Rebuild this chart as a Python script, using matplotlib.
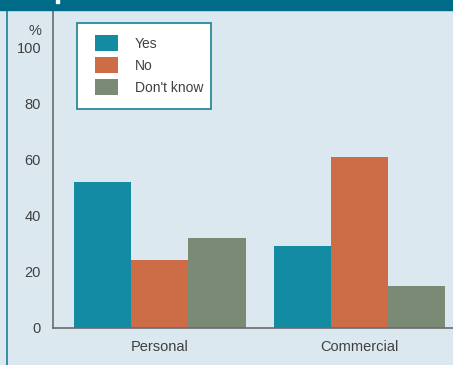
import matplotlib
matplotlib.use("Agg")
import matplotlib.pyplot as plt
import numpy as np
from matplotlib.patches import Rectangle
from matplotlib.lines import Line2D

categories = ["Personal", "Commercial"]
series_names = ["Yes", "No", "Don't know"]
yes_values = [52, 29]
no_values = [24, 61]
dont_know_values = [32, 15]
y_ticks = [0, 20, 40, 60, 80, 100]

series_values = [yes_values, no_values, dont_know_values]
colors = ["#138ba3", "#cd6d48", "#7b8a75"]
bg = "#dbe8ef"
text_color = "#404040"

plt.rcParams["font.family"] = ["Liberation Sans", "DejaVu Sans"]

W, H = 453, 365
fig = plt.figure(figsize=(W / 100, H / 100), dpi=100)
fig.patch.set_facecolor(bg)


def fx(px):
    return px / W


def fy(py):
    return 1 - py / H


# plot area, in pixels from the top-left corner
left, right, top_px, bottom_px = 53, 453, 10, 327.5
ax = fig.add_axes([fx(left), fy(bottom_px), fx(right - left), (bottom_px - top_px) / H])
ax.set_facecolor(bg)

x = np.arange(len(categories))
width = 0.286
for i, (name, vals, c) in enumerate(zip(series_names, series_values, colors)):
    ax.bar(x + (i - 1) * width, vals, width, color=c, label=name, linewidth=0)

ax.set_xlim(-0.536, 1.469)
ax.set_ylim(0, 113.4)
ax.set_yticks(y_ticks)
ax.set_xticks(x)
ax.set_xticklabels(categories)
ax.tick_params(axis="both", length=0, labelsize=10.5, colors=text_color)
ax.tick_params(axis="y", pad=8.6)
ax.tick_params(axis="x", pad=9)
for s in ["top", "right"]:
    ax.spines[s].set_visible(False)
for s in ["left", "bottom"]:
    ax.spines[s].set_color("#6b6b6b")
    ax.spines[s].set_linewidth(1.2)

fig.text(fx(41), fy(31), "%", ha="right", va="center", fontsize=10.5, color=text_color)

# legend box
fig.add_artist(Rectangle((fx(77), fy(109)), fx(210.7 - 77), (109 - 22.7) / H,
                         transform=fig.transFigure, facecolor="white",
                         edgecolor="#1a7f96", linewidth=1.2, zorder=3))
fs = 10
em = fs * 100 / 72
leg = fig.legend(*ax.get_legend_handles_labels(), loc="upper left",
                 bbox_to_anchor=(fx(95), fy(35)), bbox_transform=fig.transFigure,
                 frameon=False, fontsize=fs, handlelength=23 / em, handleheight=1.395,
                 handletextpad=17 / em, labelspacing=6 / em, borderpad=0, borderaxespad=0)
leg.set_zorder(4)
for t in leg.get_texts():
    t.set_color(text_color)

# header band and left border
fig.add_artist(Rectangle((0, fy(10)), 1, 10 / H, transform=fig.transFigure,
                         color="#006b88", zorder=5))
fig.add_artist(Rectangle((fx(56), fy(3)), fx(3), 3 / H, transform=fig.transFigure,
                         color="white", zorder=6))
fig.add_artist(Line2D([fx(7), fx(7)], [0, fy(10)], transform=fig.transFigure,
                      color="#1a7f96", linewidth=1.2))

fig.savefig("out.png", dpi=100, facecolor=bg)
